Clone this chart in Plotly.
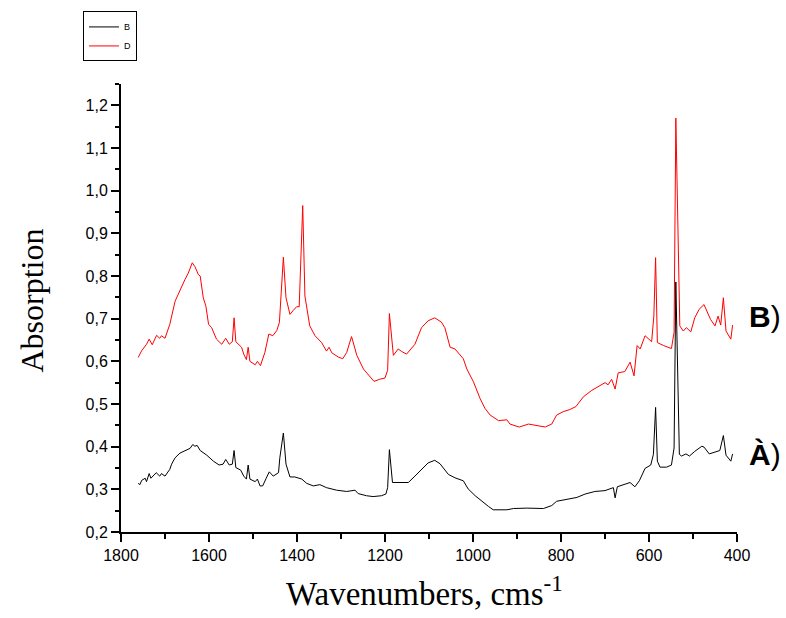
import plotly.graph_objects as go

# Series B (black) - wavenumbers and absorption
wn_B = [1761, 1757, 1753, 1745, 1742, 1736, 1732, 1720, 1712, 1708, 1700, 1689, 1685, 1677, 1666,
        1655, 1643, 1637, 1632, 1627, 1620, 1605, 1590, 1577, 1568, 1562, 1554, 1547, 1543, 1539,
        1528, 1521, 1515, 1511, 1507, 1495, 1490, 1484, 1478, 1470, 1463, 1454, 1442, 1439, 1431,
        1425, 1416, 1405, 1389, 1378, 1363, 1348, 1333, 1310, 1287, 1268, 1261, 1242, 1227, 1208,
        1198, 1194, 1190, 1183, 1175, 1166, 1147, 1132, 1117, 1102, 1087, 1075, 1056, 1041, 1022,
        1011, 995, 980, 965, 954, 923, 908, 878, 840, 821, 810, 787, 764, 745, 723,
        700, 681, 677, 672, 643, 632, 622, 609, 596, 590, 585, 581, 575, 560, 549,
        543, 539, 531, 526, 516, 508, 496, 480, 475, 463, 450, 439, 431, 425, 414, 410]
abs_B = [0.314, 0.311, 0.321, 0.326, 0.318, 0.337, 0.326, 0.339, 0.331, 0.337, 0.331, 0.347, 0.359, 0.374, 0.385,
         0.391, 0.396, 0.405, 0.401, 0.403, 0.391, 0.380, 0.366, 0.357, 0.359, 0.370, 0.357, 0.359, 0.391, 0.351,
         0.345, 0.331, 0.324, 0.357, 0.324, 0.318, 0.324, 0.308, 0.308, 0.326, 0.341, 0.331, 0.339, 0.374, 0.432,
         0.359, 0.329, 0.329, 0.324, 0.314, 0.308, 0.311, 0.304, 0.298, 0.295, 0.298, 0.290, 0.285, 0.283, 0.285,
         0.289, 0.304, 0.393, 0.316, 0.316, 0.316, 0.316, 0.331, 0.347, 0.362, 0.368, 0.360, 0.335, 0.327, 0.320,
         0.301, 0.285, 0.272, 0.260, 0.252, 0.252, 0.255, 0.256, 0.255, 0.262, 0.272, 0.277, 0.281, 0.289, 0.295,
         0.297, 0.304, 0.280, 0.306, 0.316, 0.306, 0.320, 0.349, 0.357, 0.382, 0.492, 0.366, 0.352, 0.352, 0.357,
         0.397, 0.786, 0.382, 0.378, 0.383, 0.378, 0.389, 0.401, 0.399, 0.383, 0.388, 0.391, 0.426, 0.380, 0.366, 0.383]

# Series D (red)
wn_D = [1761, 1753, 1742, 1736, 1729, 1719, 1712, 1708, 1700, 1689, 1677, 1664, 1655, 1647, 1638,
        1632, 1624, 1620, 1613, 1607, 1601, 1594, 1583, 1571, 1562, 1554, 1547, 1543, 1539, 1526,
        1521, 1515, 1511, 1507, 1495, 1490, 1483, 1473, 1464, 1455, 1446, 1440, 1431, 1425, 1416,
        1408, 1401, 1395, 1387, 1382, 1371, 1359, 1344, 1333, 1327, 1321, 1306, 1296, 1287, 1276,
        1264, 1249, 1238, 1225, 1212, 1200, 1194, 1190, 1181, 1170, 1162, 1151, 1132, 1117, 1102,
        1087, 1072, 1064, 1052, 1041, 1022, 1014, 999, 984, 973, 961, 942, 923, 916, 895,
        874, 855, 836, 821, 810, 795, 780, 766, 749, 730, 715, 700, 693, 685, 677,
        670, 655, 643, 634, 627, 620, 609, 594, 589, 585, 581, 567, 549, 543, 539,
        530, 522, 515, 505, 496, 486, 475, 466, 460, 450, 443, 437, 431, 425, 414, 410]
abs_D = [0.609, 0.625, 0.640, 0.652, 0.639, 0.661, 0.654, 0.660, 0.654, 0.687, 0.741, 0.772, 0.791, 0.807, 0.831,
         0.822, 0.803, 0.800, 0.749, 0.729, 0.687, 0.679, 0.652, 0.640, 0.654, 0.640, 0.646, 0.702, 0.646, 0.633,
         0.617, 0.604, 0.633, 0.600, 0.592, 0.600, 0.590, 0.621, 0.664, 0.660, 0.672, 0.691, 0.844, 0.749, 0.710,
         0.720, 0.728, 0.728, 0.965, 0.753, 0.683, 0.660, 0.644, 0.624, 0.633, 0.620, 0.610, 0.606, 0.621, 0.658,
         0.614, 0.582, 0.569, 0.553, 0.558, 0.561, 0.579, 0.712, 0.614, 0.629, 0.623, 0.617, 0.640, 0.679, 0.695,
         0.702, 0.692, 0.679, 0.633, 0.629, 0.606, 0.582, 0.552, 0.513, 0.490, 0.474, 0.461, 0.463, 0.453, 0.446,
         0.453, 0.450, 0.446, 0.453, 0.474, 0.482, 0.487, 0.494, 0.517, 0.532, 0.540, 0.550, 0.545, 0.558, 0.535,
         0.573, 0.576, 0.598, 0.566, 0.637, 0.629, 0.660, 0.646, 0.706, 0.843, 0.644, 0.637, 0.630, 0.668, 1.170,
         0.683, 0.671, 0.679, 0.669, 0.702, 0.722, 0.733, 0.710, 0.698, 0.683, 0.706, 0.685, 0.749, 0.671, 0.652, 0.685]

series_names = ["B", "D"]
series_colors = ["black", "red"]
curve_labels = ["<b>À</b>)", "<b>B</b>)"]
curve_label_y = [0.172, 0.482]
x_title = "Wavenumbers, cms<sup>-1</sup>"
y_title = "Absorption"

fig = go.Figure()
fig.add_trace(go.Scatter(x=wn_B, y=abs_B, mode="lines", name=series_names[0],
                         line=dict(color=series_colors[0], width=1)))
fig.add_trace(go.Scatter(x=wn_D, y=abs_D, mode="lines", name=series_names[1],
                         line=dict(color=series_colors[1], width=1)))

for txt, yy in zip(curve_labels, curve_label_y):
    fig.add_annotation(text=txt, xref="paper", yref="paper", x=1.017, y=yy,
                       xanchor="left", yanchor="middle", showarrow=False,
                       font=dict(family="Arial, Liberation Sans", size=30, color="black"))

serif = "Liberation Serif, Times New Roman, serif"
fig.add_annotation(text=x_title, xref="paper", yref="paper", x=0.4935, y=-0.1830,
                   xanchor="center", yanchor="bottom", showarrow=False,
                   font=dict(family=serif, size=33, color="black"))
fig.add_annotation(text=y_title, xref="paper", yref="paper", x=-0.1445, y=0.5166,
                   xanchor="center", yanchor="middle", showarrow=False, textangle=-90,
                   font=dict(family=serif, size=32, color="black"))

axis_common = dict(showline=True, linecolor="black", linewidth=2, ticks="outside",
                   ticklen=8, tickwidth=1.5, tickcolor="black", showgrid=False, zeroline=False,
                   automargin=False,
                   tickfont=dict(family="Arial, Liberation Sans", size=16, color="black"))

fig.update_layout(
    width=786, height=618,
    margin=dict(l=121, r=49, t=79, b=86),
    plot_bgcolor="white", paper_bgcolor="white",
    separators=", ",
    showlegend=True,
    legend=dict(x=-0.0617, y=1.162, xanchor="left", yanchor="top",
                bordercolor="black", borderwidth=1, bgcolor="white",
                font=dict(family="Arial, Liberation Sans", size=9, color="black"),
                itemwidth=30, tracegroupgap=0),
    xaxis=dict(range=[1800, 400], tick0=400, dtick=200,
               minor=dict(dtick=100, ticks="outside", ticklen=5, tickwidth=1.5, tickcolor="black", showgrid=False),
               **axis_common),
    yaxis=dict(range=[0.2, 1.25], tick0=0.2, dtick=0.1, tickformat=".1f",
               minor=dict(dtick=0.05, ticks="outside", ticklen=4, tickwidth=1.5, tickcolor="black", showgrid=False),
               **axis_common),
)

fig.write_html("out.html", config={"displayModeBar": False},
               post_script="document.body.style.margin='0';document.body.style.overflow='hidden';")
